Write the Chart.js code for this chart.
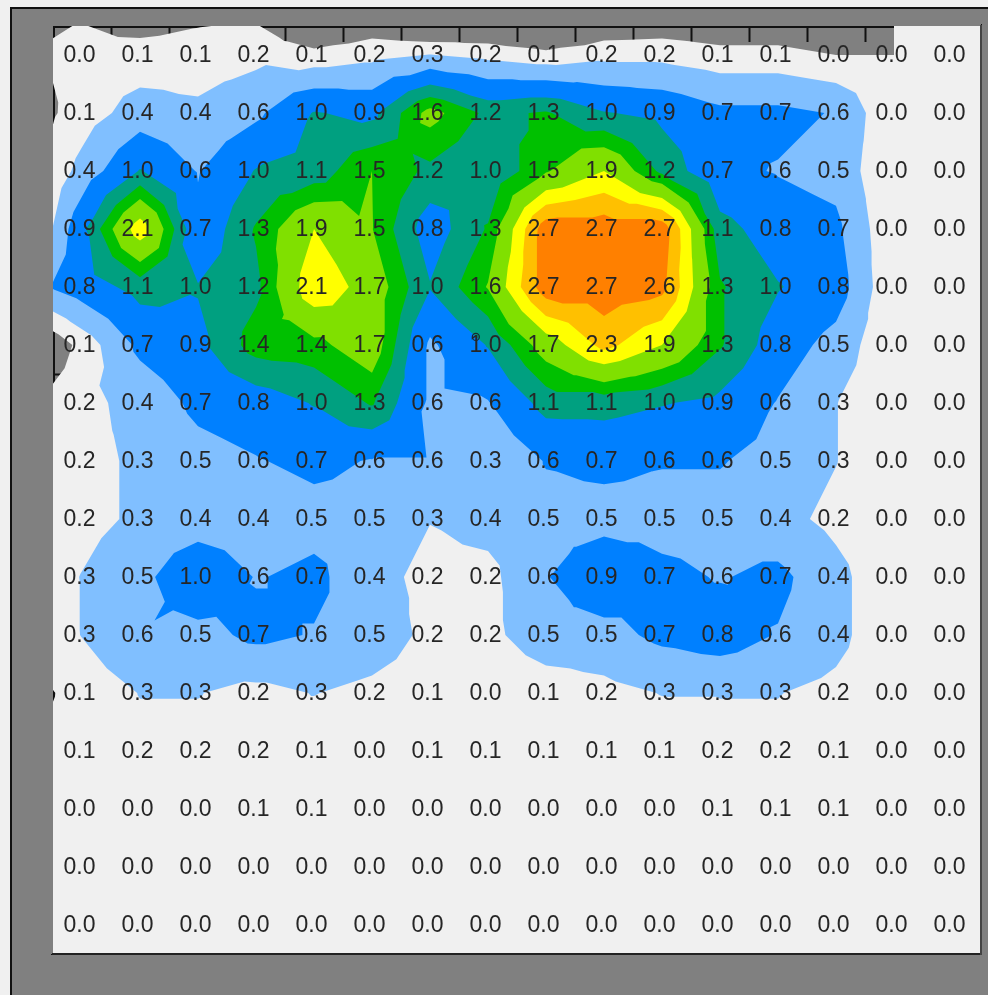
<!DOCTYPE html>
<html><head><meta charset="utf-8">
<script src="https://cdn.jsdelivr.net/npm/chart.js@4"></script>
<style>
html,body{margin:0;padding:0;background:#f0f0f0;overflow:hidden}
#frame{position:absolute;left:10px;top:7px;width:978px;height:988px;background:#808080;border-left:2px solid #111;border-top:2px solid #111;box-sizing:border-box}
canvas{display:block}
</style></head><body>
<div id="frame"><canvas id="c" width="976" height="986"></canvas></div>
<script>
const row0 =[0.049,0.1,0.115,0.2,0.1,0.2,0.3,0.2,0.1,0.2,0.2,0.1,0.1,0.0,0.0,0.0];
const row1 =[0.13,0.44,0.36,0.55,1.0,0.9,1.64,1.2,1.3,1.0,0.9,0.7,0.7,0.6,0.0,0.0];
const row2 =[0.4,1.0,0.6,1.0,1.1,1.53,1.2,1.0,1.5,1.9,1.2,0.7,0.6,0.5,0.0,0.0];
const row3 =[0.9,2.1,0.7,1.3,1.9,1.54,0.8,1.3,2.7,2.7,2.7,1.1,0.8,0.7,0.0,0.0];
const row4 =[0.8,1.1,1.0,1.2,2.14,1.74,1.0,1.55,2.7,2.7,2.6,1.3,1.0,0.8,0.0,0.0];
const row5 =[0.1,0.7,0.9,1.4,1.44,1.74,0.56,1.0,1.7,2.3,1.9,1.3,0.8,0.5,0.0,0.0];
const row6 =[0.2,0.4,0.7,0.8,1.0,1.3,0.56,0.6,1.1,1.1,1.0,0.9,0.6,0.3,0.0,0.0];
const row7 =[0.2,0.34,0.5,0.6,0.7,0.6,0.6,0.3,0.64,0.7,0.64,0.64,0.5,0.3,0.0,0.0];
const row8 =[0.2,0.34,0.4,0.4,0.5,0.5,0.3,0.4,0.5,0.5,0.5,0.5,0.4,0.2,0.0,0.0];
const row9 =[0.3,0.5,0.96,0.6,0.7,0.4,0.2,0.2,0.6,0.9,0.7,0.6,0.7,0.4,0.0,0.0];
const row10=[0.3,0.6,0.5,0.7,0.6,0.5,0.2,0.2,0.5,0.5,0.7,0.8,0.6,0.4,0.0,0.0];
const row11=[0.094,0.3,0.3,0.2,0.3,0.2,0.1,0.0,0.1,0.2,0.3,0.3,0.3,0.2,0.0,0.0];
const row12=[0.1,0.2,0.2,0.2,0.1,0.0,0.1,0.1,0.1,0.1,0.1,0.2,0.2,0.1,0.0,0.0];
const row13=[0.0,0.0,0.0,0.1,0.1,0.0,0.0,0.0,0.0,0.0,0.0,0.1,0.1,0.1,0.0,0.0];
const row14=[0.0,0.0,0.0,0.0,0.0,0.0,0.0,0.0,0.0,0.0,0.0,0.0,0.0,0.0,0.0,0.0];
const row15=[0.0,0.0,0.0,0.0,0.0,0.0,0.0,0.0,0.0,0.0,0.0,0.0,0.0,0.0,0.0,0.0];
const rows=[row0,row1,row2,row3,row4,row5,row6,row7,row8,row9,row10,row11,row12,row13,row14,row15];
const levels=[0,0.29,0.62,0.98,1.27,1.53,1.9,2.2,2.5];
const levelColors=['#f0f0f0','#80bfff','#0080ff','#00a080','#00c000','#80e000','#ffff00','#ffc000','#ff8000'];
const markerPoint=[{x:7.29,y:5.36}];

const N=rows.length;
const ext=(a,b)=>1.5*a-0.5*b;
function extendRow(r){const o=r.slice();o.unshift(ext(r[0],r[1]));o.push(ext(r[N-1],r[N-2]));return o;}
const inner=rows.map(extendRow);
const planar=(edge,near)=>edge.map((v,i)=>(i===0||i===edge.length-1)?(edge[i===0?1:i-1]+near[i]-near[i===0?1:i-1]):v);
const topRow=planar(inner[0].map((v,i)=>ext(v,inner[1][i])),inner[0]);
const botRow=planar(inner[N-1].map((v,i)=>ext(v,inner[N-2][i])),inner[N-1]);
const nodes=[topRow,...inner,botRow];
const pos=[0];for(let i=0;i<N;i++)pos.push(i+0.5);pos.push(N);

function clip(tri,L){const out=[];for(let i=0;i<3;i++){const a=tri[i],b=tri[(i+1)%3];const ai=a[2]>=L,bi=b[2]>=L;
  if(ai)out.push(a);
  if(ai!==bi){const t=(L-a[2])/(b[2]-a[2]);out.push([a[0]+t*(b[0]-a[0]),a[1]+t*(b[1]-a[1]),L]);}}
  return out;}
const contourPlugin={id:'contour',beforeDatasetsDraw(chart){
  const {ctx,scales:{x,y},chartArea:ca}=chart;
  levels.forEach((L,k)=>{
    ctx.beginPath();
    for(let j=0;j<nodes.length-1;j++)for(let i=0;i<nodes[0].length-1;i++){
      const p=[[pos[i],pos[j],nodes[j][i]],[pos[i+1],pos[j],nodes[j][i+1]],[pos[i+1],pos[j+1],nodes[j+1][i+1]],[pos[i],pos[j+1],nodes[j+1][i]]];
      const c=[(pos[i]+pos[i+1])/2,(pos[j]+pos[j+1])/2,(p[0][2]+p[1][2]+p[2][2]+p[3][2])/4];
      for(let e=0;e<4;e++){
        const poly=clip([p[e],p[(e+1)%4],c],L);
        if(poly.length<3)continue;
        poly.forEach((q,n)=>{const px=x.getPixelForValue(q[0]),py=y.getPixelForValue(q[1]);n?ctx.lineTo(px,py):ctx.moveTo(px,py);});
        ctx.closePath();
      }
    }
    ctx.fillStyle=levelColors[k];ctx.fill();
  });
  ctx.fillStyle='#808080';
  ctx.fillRect(ca.left-3,ca.top-3,3,ca.bottom-ca.top+3);
  ctx.fillRect(ca.left-3,ca.top-3,ca.right-ca.left+3,3);
}};
const labelPlugin={id:'cellLabels',afterDatasetsDraw(chart){
  const {ctx,scales:{x,y}}=chart;
  ctx.save();ctx.font='23px "Liberation Sans"';ctx.fillStyle='#262626';ctx.textAlign='center';ctx.textBaseline='middle';
  rows.forEach((r,j)=>r.forEach((v,i)=>ctx.fillText(v.toFixed(1),x.getPixelForValue(i+0.5)-2.5,y.getPixelForValue(j+0.5)+1)));
  ctx.restore();
}};
const zero=s=>{s.width=0;s.height=0;};
const ticks={display:false,stepSize:1};
const inner_tick=c=>(c.tick&&c.tick.value>0&&c.tick.value<N)?'#111':'rgba(0,0,0,0)';
new Chart(document.getElementById('c'),{
  type:'scatter',
  data:{datasets:[
    {label:'nodes',data:rows.flatMap((r,j)=>r.map((v,i)=>({x:i+0.5,y:j+0.5,v}))),pointRadius:0,pointHoverRadius:0},
    {label:'marker',data:markerPoint,pointRadius:3.5,pointBackgroundColor:'rgba(0,0,0,0)',pointBorderColor:'#1a2a30',pointBorderWidth:1.3}
  ]},
  plugins:[contourPlugin,labelPlugin],
  options:{
    responsive:false,animation:false,events:[],
    layout:{padding:{left:41,top:17,right:7,bottom:41}},
    plugins:{legend:{display:false},tooltip:{enabled:false},title:{display:false}},
    scales:{
      x:{type:'linear',position:'top',min:0,max:N,ticks,afterFit:zero,
         grid:{drawOnChartArea:false,tickLength:-16,tickWidth:2,tickColor:inner_tick},border:{color:'#111',width:4}},
      y:{type:'linear',position:'left',reverse:true,min:0,max:N,ticks,afterFit:zero,
         grid:{drawOnChartArea:false,tickLength:-10,tickWidth:2,tickColor:inner_tick},border:{color:'#111',width:4}},
      xb:{type:'linear',position:'bottom',min:0,max:N,ticks:{display:false},afterFit:zero,grid:{display:false,drawTicks:false},border:{color:'#222',width:2,z:2}},
      yr:{type:'linear',position:'right',min:0,max:N,ticks:{display:false},afterFit:zero,grid:{display:false,drawTicks:false},border:{color:'#444',width:2,z:2}}
    }
  }
});
</script></body></html>
